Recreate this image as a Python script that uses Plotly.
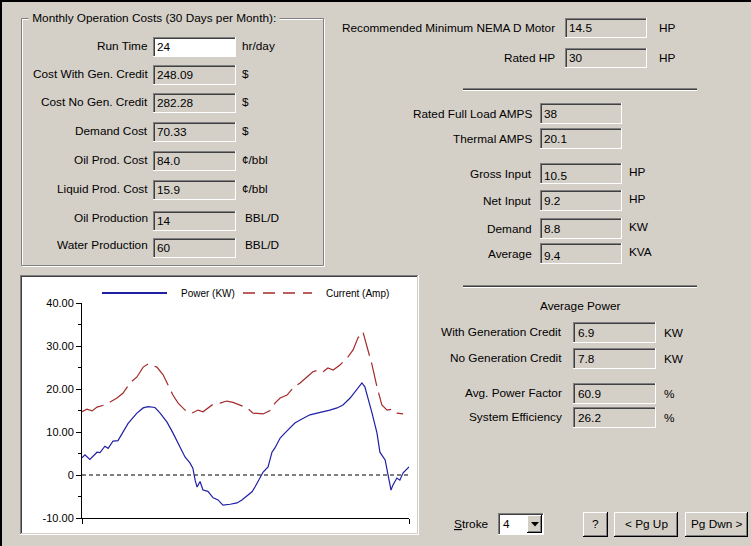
import plotly.graph_objects as go

# ---------------- data ----------------
power_pos = [0.0, 0.9, 2.4, 4.6, 5.5, 7.0, 8.0, 9.5, 11.0, 12.5, 14.1, 16.8, 18.7, 20.2, 22.3, 23.9,
             26.0, 27.8, 30.0, 31.5, 33.0, 33.9, 34.6, 35.2, 36.1, 37.0, 38.5, 40.1, 41.6, 43.1,
             45.3, 47.4, 48.9, 50.5, 52.0, 52.9, 54.4, 55.4, 56.9, 58.1, 59.0, 60.6, 62.1, 63.6,
             65.1, 66.7, 68.2, 69.7, 71.9, 73.7, 75.8, 78.0, 79.8, 82.0, 84.1, 85.6, 86.5, 87.5,
             88.7, 90.2, 91.1, 92.7, 93.6, 94.5, 95.1, 96.3, 97.2, 98.2, 100.0]
power_kw = [4.0, 4.7, 3.6, 5.3, 5.2, 6.7, 6.2, 7.9, 8.0, 9.8, 12.0, 14.4, 15.6, 15.9, 15.7, 14.4,
            12.3, 9.8, 6.5, 4.2, 2.8, 1.6, -1.2, -2.8, -1.5, -3.5, -3.8, -5.3, -5.8, -7.0,
            -6.8, -6.5, -5.8, -4.7, -3.9, -2.8, -0.7, 0.7, 1.9, 5.3, 6.3, 8.6, 9.8, 10.9,
            12.1, 12.8, 13.5, 14.0, 14.4, 14.7, 15.1, 15.6, 16.3, 17.9, 19.8, 21.4, 20.5, 17.4,
            14.4, 9.8, 5.3, 3.5, 0.0, -3.5, -2.3, -0.7, -1.2, 0.5, 1.9]
current_pos = [0.0, 1.5, 3.1, 4.6, 7.0, 8.6, 10.7, 12.5, 14.7, 16.8, 18.7, 20.2, 22.9, 24.8, 26.3,
               27.8, 29.4, 31.5, 33.6, 35.5, 37.0, 39.8, 42.2, 44.3, 46.2, 48.3, 50.5, 52.3, 55.4,
               57.5, 59.0, 60.6, 62.7, 64.5, 66.7, 68.8, 70.6, 72.2, 73.7, 75.2, 76.8, 78.9, 81.3,
               82.9, 84.4, 85.9, 87.5, 88.7, 90.2, 91.7, 93.3, 94.8, 96.3, 98.2]
current_amp = [14.7, 15.3, 14.9, 15.8, 16.3, 17.0, 17.9, 19.0, 21.4, 22.8, 25.1, 25.8, 25.1, 23.3, 20.9,
               18.6, 16.7, 15.1, 14.4, 15.1, 14.7, 16.3, 16.7, 17.2, 16.9, 16.3, 15.6, 14.4, 14.2,
               15.0, 16.7, 17.9, 18.6, 20.2, 21.4, 22.8, 24.0, 24.4, 24.0, 24.9, 24.4, 25.6, 27.4,
               29.1, 31.9, 33.3, 29.1, 25.6, 20.5, 16.3, 15.1, 15.3, 14.4, 14.2]
series_names = ["Power (KW)", "Current (Amp)"]
y_tick_vals = [-10, 0, 10, 20, 30, 40]
y_tick_text = ["-10.00", "0", "10.00", "20.00", "30.00", "40.00"]

group_title = "Monthly Operation Costs (30 Days per Month):"
cost_labels = ["Run Time", "Cost With Gen. Credit", "Cost No Gen. Credit", "Demand Cost",
               "Oil Prod. Cost", "Liquid Prod. Cost", "Oil Production", "Water Production"]
cost_values = ["24", "248.09", "282.28", "70.33", "84.0", "15.9", "14", "60"]
cost_units = ["hr/day", "$", "$", "$", "¢/bbl", "¢/bbl", "BBL/D", "BBL/D"]

motor_labels = ["Recommended Minimum NEMA D Motor", "Rated HP"]
motor_values = ["14.5", "30"]
motor_units = ["HP", "HP"]

elec_labels = ["Rated Full Load AMPS", "Thermal AMPS", "Gross Input", "Net Input", "Demand", "Average"]
elec_values = ["38", "20.1", "10.5", "9.2", "8.8", "9.4"]
elec_units = ["", "", "HP", "HP", "KW", "KVA"]

avg_title = "Average Power"
avg_labels = ["With Generation Credit", "No Generation Credit", "Avg. Power Factor", "System Efficiency"]
avg_values = ["6.9", "7.8", "60.9", "26.2"]
avg_units = ["KW", "KW", "%", "%"]

stroke_label = "<u>S</u>troke"
stroke_value = "4"
button_labels = ["?", "< Pg Up", "Pg Dwn >"]

# ---------------- layout helpers ----------------
W, H = 751, 546
BG = "#d4d0c8"
DARK = "#808080"
DARKER = "#404040"
WHITE = "#ffffff"
FONT = "Liberation Sans, Arial, sans-serif"
FS = 11.8
BLUE = "#1f1fa6"
RED = "#a52a2a"

shapes = []
annotations = []


def X(p):
    return p / W


def Y(p):
    return 1 - p / H


def rect(x0, y0, x1, y1, fill, layer="below"):
    shapes.append(dict(type="rect", xref="paper", yref="paper", x0=X(x0), x1=X(x1),
                       y0=Y(y1), y1=Y(y0), fillcolor=fill, line=dict(width=0), layer=layer))


def seg(x0, y0, x1, y1, color, width=1, dash=None, layer="below"):
    ln = dict(color=color, width=width)
    if dash:
        ln["dash"] = dash
    shapes.append(dict(type="line", xref="paper", yref="paper", x0=X(x0), x1=X(x1),
                       y0=Y(y0), y1=Y(y1), line=ln, layer=layer))


def text(x, y, s, anchor="left", size=FS, color="black", bg=None):
    a = dict(x=X(x), y=Y(y), xref="paper", yref="paper", text=s, showarrow=False,
             xanchor=anchor, yanchor="middle", font=dict(family=FONT, size=size, color=color),
             borderpad=0)
    if bg:
        a["bgcolor"] = bg
    annotations.append(a)


def sunken(x0, y0, x1, y1, fill):
    rect(x0, y0, x1, y1, fill)
    seg(x0, y0 + 0.5, x1, y0 + 0.5, DARK)
    seg(x0 + 0.5, y0, x0 + 0.5, y1, DARK)
    seg(x0 + 1, y0 + 1.5, x1 - 1, y0 + 1.5, DARKER)
    seg(x0 + 1.5, y0 + 1, x0 + 1.5, y1 - 1, DARKER)
    seg(x0, y1 - 0.5, x1, y1 - 0.5, WHITE)
    seg(x1 - 0.5, y0, x1 - 0.5, y1, WHITE)


def raised(x0, y0, x1, y1):
    rect(x0, y0, x1, y1, BG)
    seg(x0, y0 + 0.5, x1, y0 + 0.5, WHITE)
    seg(x0 + 0.5, y0, x0 + 0.5, y1, WHITE)
    seg(x0 + 1, y1 - 1.5, x1 - 1, y1 - 1.5, DARK)
    seg(x1 - 1.5, y0 + 1, x1 - 1.5, y1 - 1, DARK)
    seg(x0, y1 - 0.5, x1, y1 - 0.5, "black")
    seg(x1 - 0.5, y0, x1 - 0.5, y1, "black")


def etched_h(x0, x1, y):
    seg(x0, y + 0.5, x1, y + 0.5, DARK)
    seg(x0, y + 1.5, x1, y + 1.5, DARKER)
    seg(x0, y + 2.5, x1, y + 2.5, WHITE)


# window frame
rect(0, 0, W, 2, "black")
rect(0, 0, 2, H, "black")

# ---------- left group box ----------
gx0, gy0, gx1, gy1 = 21, 18, 323, 265
shapes.append(dict(type="rect", xref="paper", yref="paper", x0=X(gx0 + 1.5), x1=X(gx1 + 1.5),
                   y0=Y(gy1 + 1.5), y1=Y(gy0 + 1.5), line=dict(color=WHITE, width=1), layer="below"))
shapes.append(dict(type="rect", xref="paper", yref="paper", x0=X(gx0 + 0.5), x1=X(gx1 + 0.5),
                   y0=Y(gy1 + 0.5), y1=Y(gy0 + 0.5), line=dict(color=DARK, width=1), layer="below"))
text(28, gy0, " " + group_title + " ", bg=BG)

cost_rows = [46, 74, 102, 131, 160, 189, 218, 245]
for i, (lab, val, unit) in enumerate(zip(cost_labels, cost_values, cost_units)):
    ry = cost_rows[i]
    off = 2 if i >= 6 else 0
    sunken(153, ry - 9 + off, 236, ry + 11 + off, WHITE if i == 0 else BG)
    text(149, ry, lab, anchor="right")
    text(156, ry + 1 + off, val)
    text(244 if i >= 6 else 241, ry, unit)

# ---------- right: motor ----------
motor_rows = [28, 58]
for i, (lab, val, unit) in enumerate(zip(motor_labels, motor_values, motor_units)):
    ry = motor_rows[i]
    sunken(565, ry - 10, 647, ry + 10, BG)
    text(556, ry, lab, anchor="right")
    text(568, ry, val)
    text(658, ry, unit)

etched_h(463, 697, 88)

elec_rows = [114, 139, 174, 201, 229, 254]
for i, (lab, val, unit) in enumerate(zip(elec_labels, elec_values, elec_units)):
    ry = elec_rows[i]
    sunken(540, ry - 11, 622, ry + 10, BG)
    text(533, ry, lab, anchor="right")
    text(543, ry + (2 if i in (2, 5) else 0), val)
    if unit:
        text(628, ry - 2, unit)

etched_h(463, 697, 285)
text(580, 306, avg_title, anchor="center")

avg_rows = [332, 358, 393, 417]
for i, (lab, val, unit) in enumerate(zip(avg_labels, avg_values, avg_units)):
    ry = avg_rows[i]
    sunken(573, ry - 10, 656, ry + 11, BG)
    text(563, ry, lab, anchor="right")
    text(577, ry + 1, val)
    text(663, ry + 1, unit)

# ---------- stroke selector + buttons ----------
text(453, 524, stroke_label)
sunken(498, 513, 544, 535, WHITE)
text(502, 524, stroke_value)
raised(527, 515, 542, 533)
shapes.append(dict(type="path", xref="paper", yref="paper",
                   path=f"M {X(531)} {Y(522)} L {X(539)} {Y(522)} L {X(535)} {Y(526.5)} Z",
                   fillcolor="black", line=dict(width=0), layer="below"))

btn_boxes = [(583, 608), (614, 678), (685, 748)]
for (bx0, bx1), lab in zip(btn_boxes, button_labels):
    raised(bx0, 512, bx1, 537)
    text((bx0 + bx1) / 2, 524, lab, anchor="center")

# ---------- chart panel ----------
rect(20, 275, 419, 535, WHITE)
seg(20, 275.5, 419, 275.5, DARK)
seg(20.5, 275, 20.5, 535, DARK)
seg(21, 276.5, 418, 276.5, DARKER)
seg(21.5, 276, 21.5, 534, DARKER)
seg(21, 533.5, 418, 533.5, BG)
seg(417.5, 276, 417.5, 534, BG)
seg(20, 534.5, 419, 534.5, WHITE)
seg(418.5, 275, 418.5, 535, WHITE)

# legend
seg(102, 293, 167, 293, BLUE, width=2)
text(180, 293, series_names[0], size=10)
seg(243, 293, 312, 293, RED, width=1.5, dash="12px,8px")
text(325, 293, series_names[1], size=10)

fig = go.Figure()
fig.add_trace(go.Scatter(x=power_pos, y=power_kw, mode="lines", name=series_names[0],
                         line=dict(color=BLUE, width=1.2), hoverinfo="skip"))
fig.add_trace(go.Scatter(x=current_pos, y=current_amp, mode="lines", name=series_names[1],
                         line=dict(color=RED, width=1.2, dash="24px,7px"), hoverinfo="skip"))

# zero reference line
shapes.append(dict(type="line", xref="x", yref="y", x0=0, x1=100, y0=0, y1=0,
                   line=dict(color="black", width=1, dash="4px,3px"), layer="below"))

fig.update_layout(
    width=W, height=H, margin=dict(l=0, r=0, t=0, b=0, pad=0, autoexpand=False),
    paper_bgcolor=BG, plot_bgcolor="rgba(0,0,0,0)",
    showlegend=False,
    font=dict(family=FONT, size=FS, color="black"),
    xaxis=dict(domain=[82 / W, 409 / W], range=[0, 100], showgrid=False, zeroline=False,
               automargin=False,
               showline=True, linecolor="black", linewidth=1, tickvals=[0, 100],
               ticks="outside", ticklen=5, tickcolor="black", showticklabels=False, fixedrange=True),
    yaxis=dict(domain=[1 - 518 / H, 1 - 303 / H], range=[-10, 40], showgrid=False, zeroline=False,
               automargin=False,
               showline=True, linecolor="black", linewidth=1, tickvals=y_tick_vals,
               ticktext=y_tick_text, ticks="outside", ticklen=5, tickcolor="black",
               tickfont=dict(family=FONT, size=11, color="black"),
               minor=dict(ticks="outside", ticklen=3, dtick=5, tick0=0, tickcolor="black"),
               fixedrange=True),
    shapes=shapes,
    annotations=annotations,
)

fig.write_html("out.html", config={"displayModeBar": False},
               post_script="document.body.style.margin='0';document.body.style.overflow='hidden';")
